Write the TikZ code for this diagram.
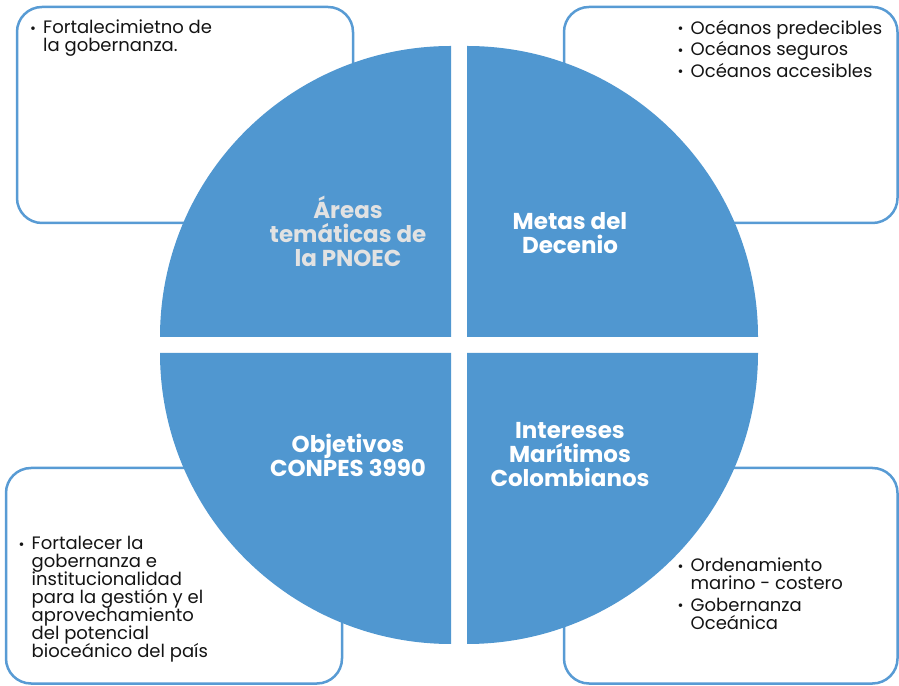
\documentclass[tikz,border=0pt]{standalone}
\usepackage{fontspec}
\setmainfont{Poppins}
\definecolor{qblue}{RGB}{80,151,208}
\definecolor{bblue}{RGB}{88,155,212}
\definecolor{tgray}{RGB}{226,226,226}
\definecolor{btext}{RGB}{20,20,20}
\newcommand\bitem[1]{\par\noindent\hangindent=13pt\hangafter=1\relax\makebox[13pt][l]{\raisebox{0.5pt}{\scalebox{0.8}{\textbullet}}}#1\par}
\newcommand\nl{\hfill\break}
\newcommand\blist[2]{\parbox[t]{#1}{\raggedright\setlength{\parskip}{3.5pt}\setlength{\lineskiplimit}{-50pt}#2}}
\begin{document}
\begin{tikzpicture}[x=1pt,y=1pt,
  infobox/.style={draw=bblue,line width=2.5pt,rounded corners=25pt,fill=white},
  quad/.style={fill=qblue},
  body/.style={font=\fontsize{18}{18}\selectfont,text=btext,inner sep=0pt,anchor=north west},
  title/.style={font=\fontsize{23}{24}\selectfont\bfseries\setlength{\lineskiplimit}{-50pt},text=white,align=center,inner sep=0pt}]
\useasboundingbox (0,0) rectangle (899,685);
% boxes
\draw[infobox] (17,462) rectangle (353,678);
\draw[infobox] (564,462) rectangle (897.5,678);
\draw[infobox] (6,1.5) rectangle (342,217);
\draw[infobox] (564,1.5) rectangle (897.5,217);
% quadrants
\fill[quad] (467,348) -- (758,348) arc[start angle=0,end angle=90,radius=291] -- cycle;
\fill[quad] (451,348) -- (451,639) arc[start angle=90,end angle=180,radius=291] -- cycle;
\fill[quad] (451,332) -- (160,332) arc[start angle=180,end angle=270,radius=291] -- cycle;
\fill[quad] (467,332) -- (467,41) arc[start angle=270,end angle=360,radius=291] -- cycle;
% titles
\node[title,text=tgray] (t1) at (348,454) {Áreas\\temáticas de\\la PNOEC};
\node[title] (t2) at (570,452) {Metas del\\Decenio};
\node[title] (t3) at (348,230) {Objetivos\\CONPES 3990};
\node[title] (t4) at (570,230) {Intereses\\Marítimos\\Colombianos};
% texts
\node[body] (x1) at (30,665) {\blist{300pt}{\bitem{Fortalecimietno de\nl la gobernanza.}}};
\node[body] (x2) at (677.5,665) {\blist{215pt}{\bitem{Océanos predecibles}\bitem{Océanos seguros}\bitem{Océanos accesibles}}};
\node[body] (x3) at (18.5,149) {\blist{300pt}{\bitem{Fortalecer la\nl gobernanza e\nl institucionalidad\nl para la gestión y el\nl aprovechamiento\nl del potencial\nl bioceánico del país}}};
\node[body] (x4) at (677.5,127) {\blist{215pt}{\bitem{Ordenamiento\nl marino - costero}\bitem{Gobernanza\nl Oceánica}}};
\end{tikzpicture}
\end{document}
